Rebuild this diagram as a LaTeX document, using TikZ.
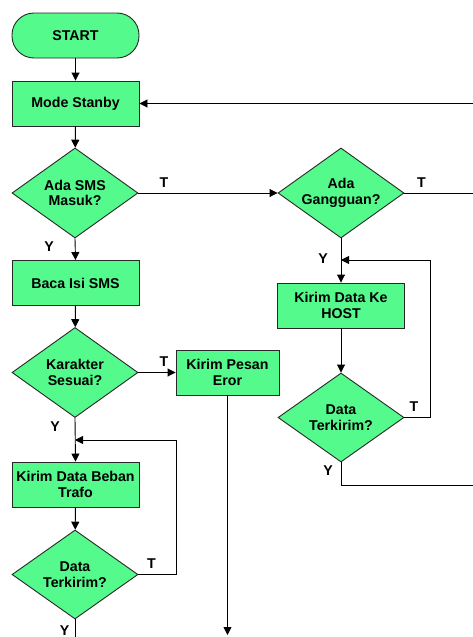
\documentclass[tikz,border=0pt]{standalone}
\usepackage{fontspec}
\setmainfont{Liberation Sans}
\usetikzlibrary{arrows.meta,shapes.geometric}
\definecolor{boxgreen}{RGB}{85,250,140}
\definecolor{edgegray}{RGB}{40,40,40}
\begin{document}
\begin{tikzpicture}[x=1pt,y=-1pt,
  txt/.style={font=\fontsize{14.2}{15.5}\selectfont\bfseries},
  base/.style={txt, draw=edgegray, fill=boxgreen, line width=0.9pt, align=center, inner sep=0pt},
  term/.style={base, rectangle, rounded corners=22pt, minimum width=127pt, minimum height=45pt},
  proc/.style={base, rectangle, minimum width=127pt, minimum height=45pt},
  dec/.style={base, diamond, aspect=1.4, minimum width=126pt, minimum height=90pt},
  lbl/.style={txt, inner sep=0pt, anchor=center},
  conn/.style={draw=black, line width=0.9pt},
  arr/.style={conn, -{Triangle[length=8pt,width=8pt]}}
]
\useasboundingbox (0,0) rectangle (473,637);

% nodes
\node[term] (start) at (75.5,35.5) {START};
\node[proc] (mode) at (75.5,103.5) {Mode Stanby};
\node[dec] (sms) at (75,193) {Ada SMS\\Masuk?};
\node[proc] (baca) at (75.5,283) {Baca Isi SMS};
\node[dec] (kar) at (75,372.5) {Karakter\\Sesuai?};
\node[proc, minimum width=103pt] (pesan) at (227.5,372.5) {Kirim Pesan\\Eror};
\node[proc] (beban) at (75.5,484.5) {Kirim Data Beban\\Trafo};
\node[dec, minimum height=89pt] (kirimA) at (75,574.5) {Data\\Terkirim?};
\node[dec] (gang) at (341,193) {Ada\\Gangguan?};
\node[proc] (host) at (341,305.5) {Kirim Data Ke\\HOST};
\node[dec, minimum height=89pt] (kirimB) at (341,417.5) {Data\\Terkirim?};

% free ends and bends
\coordinate (eTop) at (473,103.5);
\coordinate (eGang) at (473,193);
\coordinate (eB) at (473,485);
\coordinate (ePesan) at (227.5,635);
\coordinate (eBot) at (75,637);
\coordinate (mA) at (75,440);
\coordinate (mB) at (341,260);
\coordinate (cA1) at (176,574.5);
\coordinate (cA2) at (176,440);
\coordinate (cB1) at (430,417.5);
\coordinate (cB2) at (430,260);
\coordinate (cB3) at (341,485);

% connectors
\draw[arr] (start) -- (mode);
\draw[arr] (eTop) -- (mode.east);
\draw[arr] (mode) -- (sms);
\draw[arr] (sms.east) -- (gang.west);
\draw[arr] (sms.south) -- (baca.north);
\draw[arr] (baca) -- (kar);
\draw[arr] (kar.east) -- (pesan.west);
\draw[arr] (pesan.south) -- (ePesan);
\draw[arr] (kar.south) -- (beban.north);
\draw[arr] (kirimA.east) -- (cA1) -- (cA2) -- (mA);
\draw[arr] (beban) -- (kirimA);
\draw[conn] (kirimA.south) -- (eBot);
\draw[conn] (gang.east) -- (eGang);
\draw[arr] (gang.south) -- (host.north);
\draw[arr] (host) -- (kirimB);
\draw[arr] (kirimB.east) -- (cB1) -- (cB2) -- (mB);
\draw[conn] (kirimB.south) -- (cB3) -- (eB);

% labels
\node[lbl] (t1) at (164,182.5) {T};
\node[lbl] (y1) at (49,247) {Y};
\node[lbl] (t2) at (421.5,182.5) {T};
\node[lbl] (y2) at (323,258.5) {Y};
\node[lbl] (t3) at (164,361.5) {T};
\node[lbl] (y3) at (55,426.5) {Y};
\node[lbl] (t4) at (151.5,564) {T};
\node[lbl] (y4) at (64.5,630.5) {Y};
\node[lbl] (t5) at (414,407) {T};
\node[lbl] (y5) at (328,470.5) {Y};
\end{tikzpicture}
\end{document}
